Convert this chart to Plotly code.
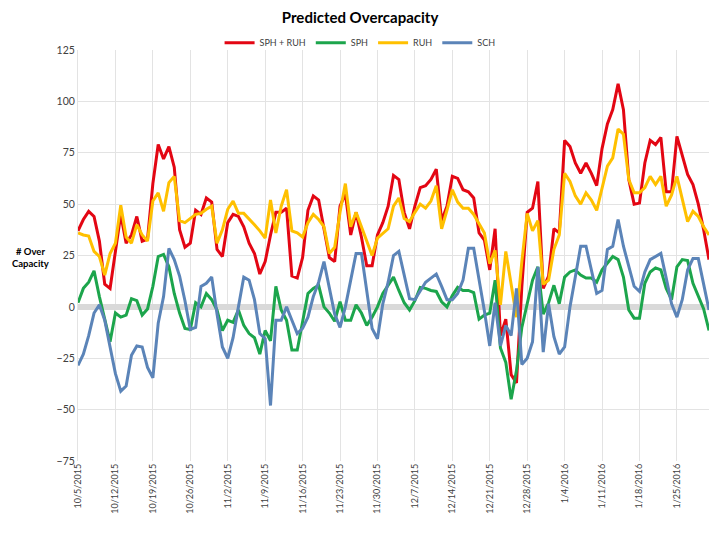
import pandas as pd
import plotly.graph_objects as go

dates = pd.date_range('2015-10-05', '2016-01-31', freq='D')

sph_ruh = [37, 42.5, 46.5, 44, 32, 11, 9, 28, 45, 31,
           35, 44, 32, 33, 60, 79, 72, 78, 68, 37.5,
           29, 31, 47, 45, 53, 51, 28, 24.5, 41, 45,
           44, 39, 31, 26, 16, 22, 35, 46, 46, 48,
           15, 14, 24, 47, 54, 52, 38, 24, 22, 49,
           55, 35, 46, 34, 20, 20, 35, 41, 49, 64,
           62, 46, 38, 49, 58, 59, 62, 67, 42, 49,
           63.5, 62.5, 57, 56, 53, 36, 32.5, 18, 38, -14,
           -6, -33, -37, 10, 46, 48, 61, 9, 15, 38,
           36, 81, 78, 70, 65, 70, 65, 59, 77, 89,
           96, 108.5, 96, 62, 50, 50.5, 70, 81, 79, 82.5,
           56, 56, 83, 74, 64.5, 59.5, 50, 37.5, 23]

sph = [2, 9, 12, 17.5, 5, -6, -17, -3, -5, -4,
       4, 3, -4, -1, 10, 24.5, 25.5, 19.5, 6.5, -3,
       -10.5, -11, 2, 0, 6.5, 3.5, -1.5, -11.5, -6.5, -7.5,
       -1.5, -9, -13, -15, -23, -11.5, -16.5, 10, -1.5, -6.5,
       -21, -21, -6.5, 6.5, 9, 10.5, 0, -3, -7, 2.5,
       -6.5, -6.5, 1, -3, -9, -5, 0, 6.5, 10.5, 14.5,
       8, 2, -1.5, 3, 9.5, 9, 8, 7.5, 2.5, 0,
       5.5, 9.5, 8, 8, 7, -6, -4, -3, 13, -20,
       -27, -45, -31, -10, 1.5, 13, 19.5, -3.5, 2, 10.5,
       1.5, 14.5, 17, 18, 15.5, 14, 14, 12, 18, 21,
       24.5, 23, 14.5, -1.5, -5.5, -5.5, 11.5, 17, 19, 18,
       9, 3.5, 19.5, 23, 22.5, 11.5, 5, -1, -11.5]

ruh = [36, 35, 34.5, 27, 24.5, 15.5, 26, 31, 49.5, 34,
       31, 40, 35, 32, 51.5, 55.5, 46.5, 60.5, 63.5, 42,
       41, 43, 45, 45.5, 47.5, 49, 31, 37.5, 47.5, 51.5,
       45.5, 45.5, 43, 40, 37, 33.5, 52, 36, 49, 57,
       37, 36, 34, 41, 45, 42.5, 39, 26, 29, 46,
       60, 39, 46, 39, 31, 25, 33.5, 36, 38, 49,
       53, 43, 41.5, 46, 50, 48, 51.5, 59, 38, 47,
       57, 51, 48, 48, 45, 40.5, 36, 21, 27.5, 1,
       27, 11, -5, 22, 45.5, 37, 42, 11, 13, 28,
       35, 65, 61, 54, 50, 55.5, 52, 47, 58, 68.5,
       72.5, 86.5, 84, 62, 55.5, 55.5, 58, 63.5, 59.5, 63.5,
       49, 54.5, 63.5, 52, 41.5, 46.5, 44, 39, 35]

sch = [-28.5, -23, -14, -3, 1, -6.5, -19.5, -32.5, -41, -38.5,
       -23.5, -19, -19.5, -29.5, -34.5, -8, 5, 28.5, 23, 15,
       3, -11, -10, 10, 11.5, 14.5, -3.5, -19.5, -25, -15,
       0, 14.5, 13, 3.5, -13, -15.5, -48, -6.5, -6.5, 0,
       -6.5, -13, -10.5, -5, 5, 12, 22, 10, -3.5, -10,
       0, 13, 26, 26, 6.5, -10.5, -15.5, 1.5, 12, 25,
       27, 15, 4, 3.5, 8, 12, 14, 16, 10, 3.5,
       3.5, 6.5, 13, 28.5, 28.5, 13.5, -2, -19, 2, -19,
       -9, -14, 9, -28, -25, -17, 19.5, -22, 1.5, -14.5,
       -23, -19.5, 0, 14.5, 29.5, 29.5, 18, 6.5, 8, 28,
       29.5, 42.5, 29.5, 19.5, 10, 7.5, 17, 23, 24.5, 26,
       14, 1.5, -5, 3.5, 18, 23.5, 23.5, 11.5, -1.5]

series = [('SPH + RUH', sph_ruh, '#e30613'),
          ('SPH', sph, '#1ca54c'),
          ('RUH', ruh, '#ffc000'),
          ('SCH', sch, '#5b84b8')]

fig = go.Figure()
for name, vals, color in series:
    fig.add_trace(go.Scatter(x=dates, y=vals, mode='lines', name=name,
                             line=dict(color=color, width=3)))

# the page puts the figure 8px in from the top-left corner, so margins are shifted to match
fig.update_layout(
    title=dict(text='<b>Predicted Overcapacity</b>', x=0.489, xanchor='center',
               y=0.983, yanchor='middle', font=dict(size=15, color='#000000')),
    font=dict(family='Lato, Open Sans, sans-serif', color='#404040'),
    width=720, height=544,
    paper_bgcolor='white', plot_bgcolor='white',
    margin=dict(l=70, r=19, t=42, b=91, autoexpand=False),
    showlegend=True,
    legend=dict(orientation='h', xref='container', x=0.489, xanchor='center',
                yref='container', y=0.936, yanchor='middle',
                font=dict(size=9, color='#404040'), itemwidth=30,
                bgcolor='rgba(0,0,0,0)'),
    xaxis=dict(type='date', range=['2015-10-05', '2016-01-31'],
               tick0='2015-10-05', dtick=7 * 24 * 3600 * 1000,
               tickformat='%-m/%-d/%Y', tickangle=-90, automargin=False,
               tickfont=dict(size=9, color='#404040'),
               showgrid=True, gridcolor='#e3e3e3', gridwidth=1,
               showline=False, zeroline=False, ticks=''),
    yaxis=dict(range=[-75, 125], dtick=25, tick0=0, automargin=False,
               tickfont=dict(size=10.5, color='#404040'),
               showgrid=True, gridcolor='#e3e3e3', gridwidth=1,
               zeroline=True, zerolinecolor='#d9d9d9', zerolinewidth=6,
               showline=True, linecolor='#e3e3e3', ticks=''),
    annotations=[dict(text='<b># Over<br>Capacity</b>', xref='paper', yref='y',
                      x=-0.076, y=24, showarrow=False, xanchor='center',
                      font=dict(size=9.5, color='#000000'))]
)

fig.write_html('out.html')
